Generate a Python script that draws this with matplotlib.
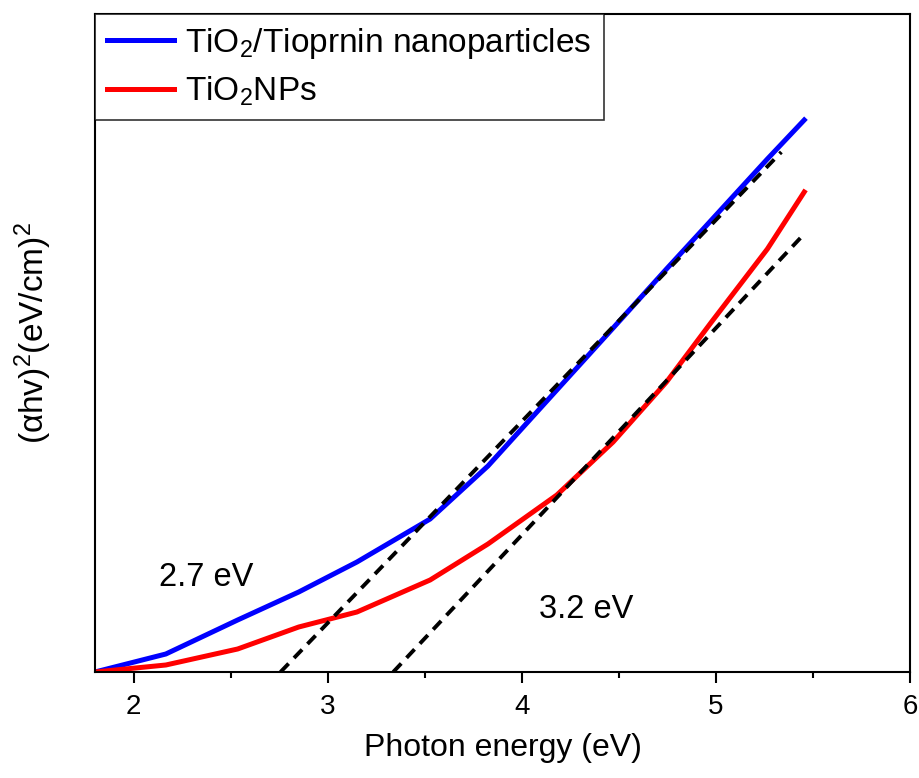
import matplotlib
matplotlib.use("Agg")
import matplotlib.pyplot as plt
from matplotlib.ticker import MultipleLocator

plt.rcParams['font.family'] = ['Liberation Sans', 'DejaVu Sans']
plt.rcParams['mathtext.fontset'] = 'custom'
plt.rcParams['mathtext.rm'] = 'Liberation Sans'
plt.rcParams['mathtext.it'] = 'Liberation Sans'

# photon energy (eV)
energy = [1.8, 2.165, 2.535, 2.85, 3.15, 3.527, 3.825, 4.18, 4.47, 4.745, 4.977, 5.265, 5.455]
# (alpha h v)^2, arbitrary units
tio2_tiopronin = [0, 18, 52, 80, 110, 153, 206, 282, 344, 403, 452, 513, 552]
tio2_nps = [0, 7, 23, 45, 60, 92, 128, 177, 230, 290, 350, 423, 480]

# tangent lines used for the band gap
fit_blue_x = [2.756, 5.337]
fit_blue_y = [0, 520]
fit_red_x = [3.337, 5.44]
fit_red_y = [0, 435]


def main():
    fig = plt.figure(figsize=(9.19, 7.78), dpi=100)
    ax = fig.add_axes([95 / 919, 1 - 672 / 778, 815 / 919, 658 / 778])

    ax.plot(energy, tio2_tiopronin, color='#0000ff', lw=3.6,
            label='TiO$_2$/Tioprnin nanoparticles', zorder=2)
    ax.plot(energy, tio2_nps, color='#ff0000', lw=3.6,
            label='TiO$_2$NPs', zorder=2)
    ax.plot(fit_blue_x, fit_blue_y, color='black', lw=2.8, ls=(0, (3, 2)), zorder=3)
    ax.plot(fit_red_x, fit_red_y, color='black', lw=2.8, ls=(0, (3, 2)), zorder=3)

    ax.text(2.13, 95, '2.7 eV', fontsize=23.5, va='center', ha='left')
    ax.text(4.09, 63, '3.2 eV', fontsize=23.5, va='center', ha='left')

    ax.set_xlim(1.8, 6)
    ax.set_ylim(0, 658)
    ax.xaxis.set_major_locator(MultipleLocator(1))
    ax.xaxis.set_minor_locator(MultipleLocator(0.5))
    ax.set_yticks([])
    ax.tick_params(axis='x', which='major', direction='out', length=8, width=1.5,
                   labelsize=20, pad=8)
    ax.tick_params(axis='x', which='minor', direction='out', length=4, width=1.5)
    for s in ax.spines.values():
        s.set_linewidth(1.5)

    ax.set_xlabel('Photon energy (eV)', fontsize=23, labelpad=9)
    ax.set_ylabel('(αhv)$^2$(eV/cm)$^2$', fontsize=24)
    ax.yaxis.set_label_coords(-0.05, 0.515)

    leg = ax.legend(loc='upper left', bbox_to_anchor=(0, 1), borderaxespad=0,
                    fontsize=24, frameon=True, fancybox=False, handlelength=2.0,
                    handletextpad=0.35, labelspacing=0.40, borderpad=0.36)
    leg.get_frame().set_edgecolor('black')
    leg.get_frame().set_linewidth(1.2)

    fig.savefig('out.png', dpi=100)


if __name__ == "__main__":
    main()
